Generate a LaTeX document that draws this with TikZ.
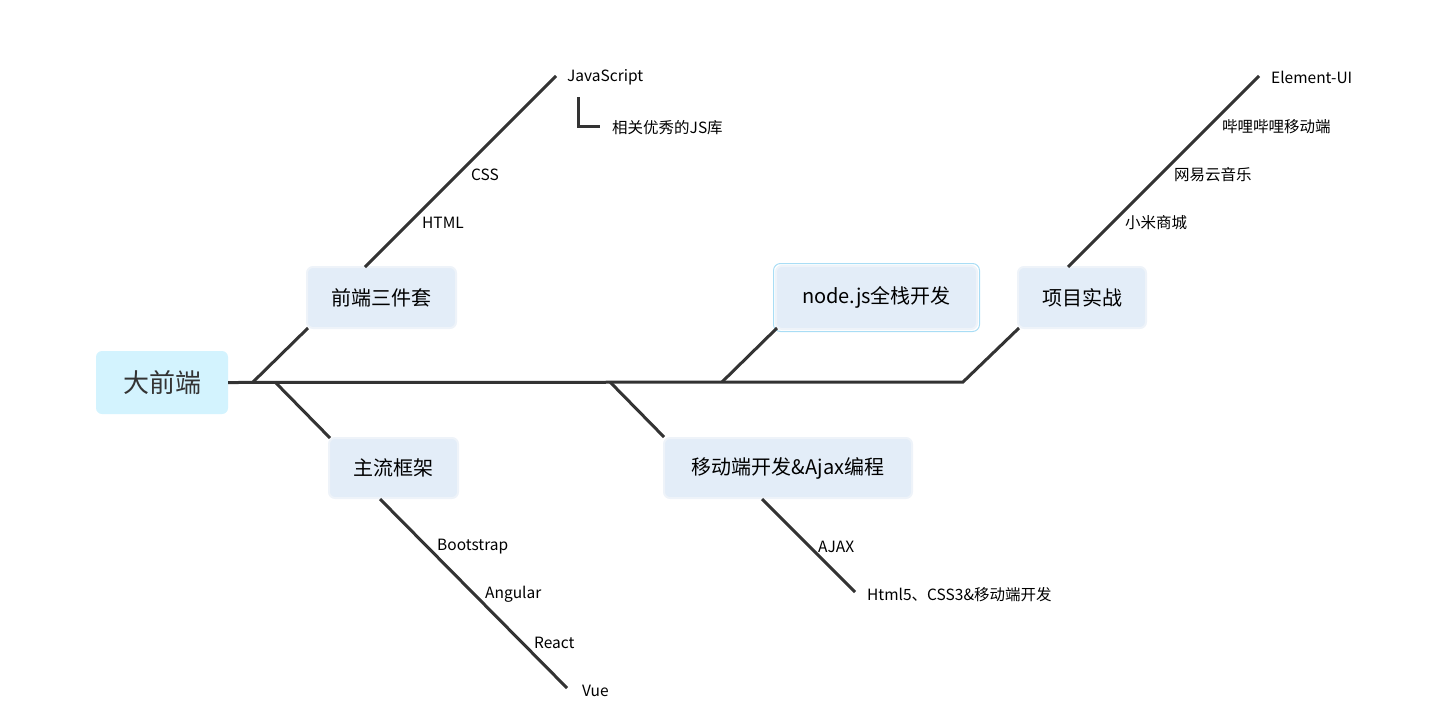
\documentclass[tikz,border=0pt]{standalone}
\usepackage{fontspec}
\setmainfont{Noto Sans CJK SC}
\usetikzlibrary{calc}
\definecolor{linegray}{HTML}{333333}
\definecolor{boxfill}{HTML}{E3EDF8}
\definecolor{boxring}{HTML}{EEF3F9}
\definecolor{rootfill}{HTML}{D3F3FE}
\definecolor{selblue}{HTML}{A9DDF5}
\tikzset{
	bone/.style={draw=linegray, line width=3pt},
	topic/.style={rounded corners=6pt, fill=boxfill, draw=boxring, line width=2pt, text=black, font=\fontsize{20}{24}\selectfont, inner sep=0pt},
	leaf/.style={anchor=west, inner sep=0pt, yshift=-1.5pt, text=black, font=\fontsize{15.5}{18}\selectfont}
}

\begin{document}
\begin{tikzpicture}[x=1pt, y=-1pt]
			%%%%% START %%%%%
			\useasboundingbox (0, 0) rectangle (1448, 726);
			
			\node[rounded corners=6pt, fill=rootfill, inner sep=0pt, minimum width=132pt, minimum height=63pt, text=linegray, font=\fontsize{26}{30}\selectfont] (root) at (162, 382.5) {大前端};
			
			\node[topic, minimum width=149pt, minimum height=61pt] (sanjian) at (381.5, 297.5) {前端三件套};
			\node[topic, minimum width=129pt, minimum height=60pt] (kuangjia) at (393.5, 468) {主流框架};
			\node[topic, minimum width=248pt, minimum height=60pt] (yidong) at (788, 468) {移动端开发\&Ajax编程};
			\node[topic, minimum width=201pt, minimum height=63pt] (nodejs) at (876.5, 297.5) {node.js全栈开发};
			\draw[selblue, line width=1pt, rounded corners=7pt] ($(nodejs.south west)+(-1.5, 1.5)$) rectangle ($(nodejs.north east)+(1.5, -1.5)$);
			\node[topic, minimum width=128pt, minimum height=61pt] (xiangmu) at (1082, 297.5) {项目实战};
			
			% spine
			\coordinate (s1) at (253, 382);
			\coordinate (s2) at (275, 382);
			\coordinate (s3) at (610, 382);
			\coordinate (s4) at (722, 382);
			\coordinate (s5) at (963, 382);
			\draw[bone] (root.east) -- (s5) -- ($(xiangmu.south west)+(2, -1)$);
			\draw[bone] (s1) -- ($(sanjian.south west)+(2, -1)$);
			\draw[bone] (s2) -- ($(kuangjia.north west)+(2, 1)$);
			\draw[bone] (s3) -- ($(yidong.north west)+(1, 0)$);
			\draw[bone] (s4) -- ($(nodejs.south west)+(2, -2)$);
			
			% 前端三件套
			\coordinate (t1) at (365, 267);
			\coordinate (t1end) at (556, 76);
			\draw[bone] (t1) -- (t1end);
			\node[leaf] (js) at (567, 76) {JavaScript};
			\node[leaf] (css) at (471, 173) {CSS};
			\node[leaf] (html) at (422, 221) {HTML};
			\node[leaf] (jsku) at (612, 126) {相关优秀的JS库};
			\coordinate (k1) at (578, 97);
			\draw[bone] (k1) |- (600, 126);
			
			% 主流框架
			\coordinate (t2) at (380, 499);
			\coordinate (t2end) at (567, 688);
			\draw[bone] (t2) -- (t2end);
			\node[leaf] (bootstrap) at (437, 545) {Bootstrap};
			\node[leaf] (angular) at (485, 593) {Angular};
			\node[leaf] (react) at (534, 641) {React};
			\node[leaf] (vue) at (582, 689) {Vue};
			
			% 移动端开发&Ajax编程
			\coordinate (t3) at (762, 499);
			\coordinate (t3end) at (855, 592);
			\draw[bone] (t3) -- (t3end);
			\node[leaf] (ajax) at (818, 545) {AJAX};
			\node[leaf] (html5) at (867, 593) {Html5、CSS3\&移动端开发};
			
			% 项目实战
			\coordinate (t5) at (1068, 267);
			\coordinate (t5end) at (1259, 76);
			\draw[bone] (t5) -- (t5end);
			\node[leaf] (element) at (1271, 76) {Element-UI};
			\node[leaf] (bili) at (1222, 125) {哔哩哔哩移动端};
			\node[leaf] (wangyi) at (1174, 173) {网易云音乐};
			\node[leaf] (xiaomi) at (1125, 221) {小米商城};
			
			%%%%% END %%%%%
\end{tikzpicture}
\end{document}
